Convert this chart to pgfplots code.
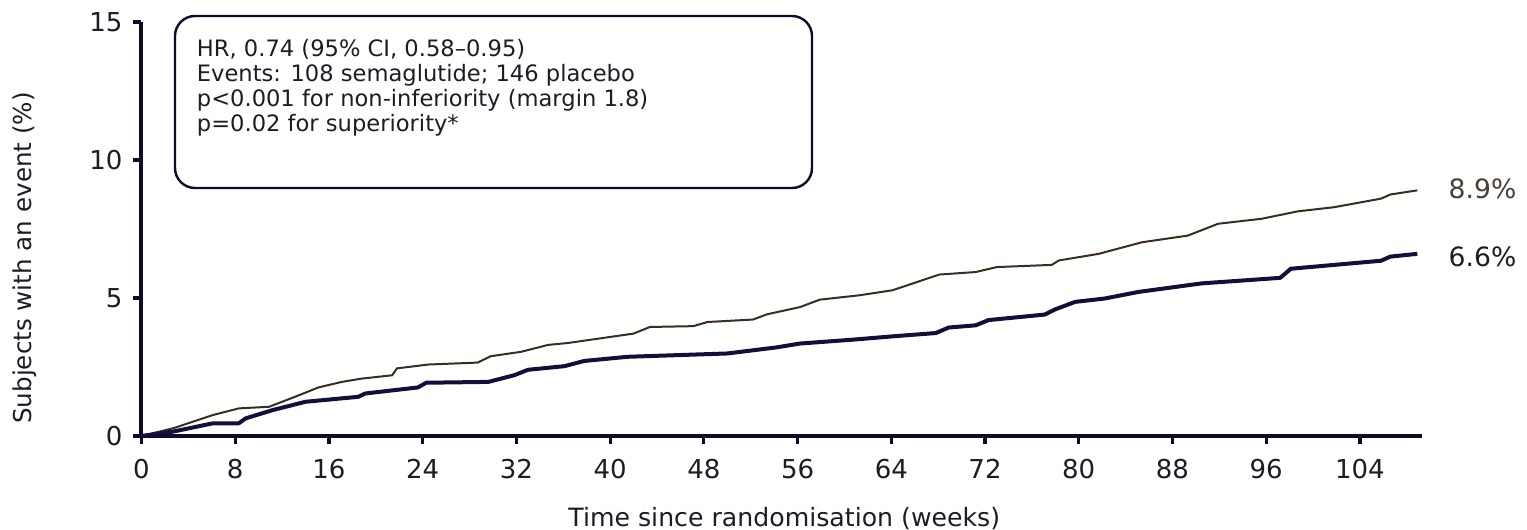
\documentclass[border=0pt]{standalone}
\usepackage{fontspec}
\setmainfont{DejaVu Sans}
\usepackage{pgfplots}
\pgfplotsset{compat=1.18}
\usepackage{pgfplotstable}

\definecolor{axisnavy}{HTML}{0D0D2B}
\definecolor{semablue}{HTML}{10103A}
\definecolor{placebrown}{HTML}{3A2C1E}
\definecolor{txt}{HTML}{1C1C28}
\definecolor{txtbrown}{HTML}{4A3F36}

% Cumulative incidence, placebo arm (weeks, %)
\pgfplotstableread{
w     p
0     0
2.7   0.28
6.1   0.76
8.3   1.00
10.9  1.06
13.1  1.42
15.1  1.76
17.1  1.96
18.8  2.08
21.4  2.20
21.8  2.45
24.5  2.59
28.7  2.66
29.8  2.89
32.4  3.05
34.7  3.30
36.4  3.37
42.0  3.71
43.4  3.95
47.1  3.98
48.3  4.13
52.2  4.22
53.4  4.41
56.2  4.67
57.9  4.94
61.3  5.10
64.1  5.28
68.1  5.85
71.2  5.94
73.0  6.12
77.7  6.20
78.3  6.36
81.7  6.60
85.4  7.02
89.3  7.26
91.9  7.69
95.6  7.87
98.7  8.14
101.8 8.29
105.8 8.60
106.6 8.75
108.9 8.90
}\placebo

% Cumulative incidence, semaglutide arm (weeks, %)
\pgfplotstableread{
w     p
0     0
2.7   0.16
6.1   0.46
8.3   0.46
8.9   0.64
11.2  0.94
14.0  1.24
18.5  1.42
19.1  1.54
23.6  1.76
24.3  1.93
29.6  1.96
31.8  2.20
33.0  2.40
36.1  2.53
37.8  2.72
41.5  2.87
50.0  2.99
54.2  3.21
56.2  3.35
60.7  3.49
64.1  3.61
67.8  3.73
68.9  3.93
71.2  4.01
72.3  4.20
77.1  4.40
78.0  4.59
79.7  4.86
82.2  4.98
85.1  5.22
90.5  5.53
97.2  5.73
98.1  6.06
105.8 6.35
106.6 6.50
108.9 6.60
}\sema

\begin{document}
\begin{tikzpicture}
\begin{axis}[
  at={(0,0)}, anchor=south west,
  scale only axis, width=640.25pt, height=207pt,
  xmin=0, xmax=109.3, ymin=0, ymax=15,
  axis x line=bottom, axis y line=left,
  axis line style={-, line width=2pt, color=axisnavy},
  xtick={0,8,...,104}, ytick={0,5,10,15},
  tick align=outside, major tick length=4pt,
  tick style={line width=1.6pt, color=axisnavy},
  ticklabel style={font=\fontsize{13}{15}\selectfont, text=txt},
  xticklabel style={yshift=-4pt},
  yticklabel style={xshift=-2pt},
  /pgf/number format/assume math mode=true,
  xlabel={Time since randomisation (weeks)},
  ylabel={Subjects with an event (\%)},
  label style={text=txt},
  xlabel style={font=\fontsize{12.6}{15}\selectfont,
                at={(axis description cs:0.502,-0.218)}, anchor=base},
  ylabel style={font=\fontsize{12.3}{15}\selectfont,
                at={(axis description cs:-0.091,0.43)}, anchor=center},
  clip=false,
]
\addplot[placebrown, line width=1pt, line join=round] table[x=w, y=p] {\placebo};
\addplot[semablue, line width=2pt, line join=round] table[x=w, y=p] {\sema};
\node[anchor=west, inner sep=0, xshift=15.5pt, yshift=1pt, text=txtbrown,
      font=\fontsize{13.3}{15}\selectfont] at (axis cs:108.9,8.9) {8.9\%};
\node[anchor=west, inner sep=0, xshift=15.5pt, yshift=-1.5pt, text=txt,
      font=\fontsize{13.3}{15}\selectfont] at (axis cs:108.9,6.6) {6.6\%};
\end{axis}

% statistics box
\draw[rounded corners=10pt, line width=1.2pt, axisnavy]
  (16.75pt,124pt) rectangle (335.25pt,210pt);
\node[anchor=north west, inner sep=0, align=left, text=txt,
      font=\fontsize{11.3}{12.5}\selectfont] at (27.5pt,198.5pt)
  {HR, 0.74 (95\% CI, 0.58–0.95)\\
   Events: 108 semaglutide; 146 placebo\\
   p<0.001 for non-inferiority (margin 1.8)\\
   p=0.02 for superiority*};

\pgfresetboundingbox
\useasboundingbox (-70.75pt,-47pt) rectangle (692.75pt,218pt);
\end{tikzpicture}
\end{document}
